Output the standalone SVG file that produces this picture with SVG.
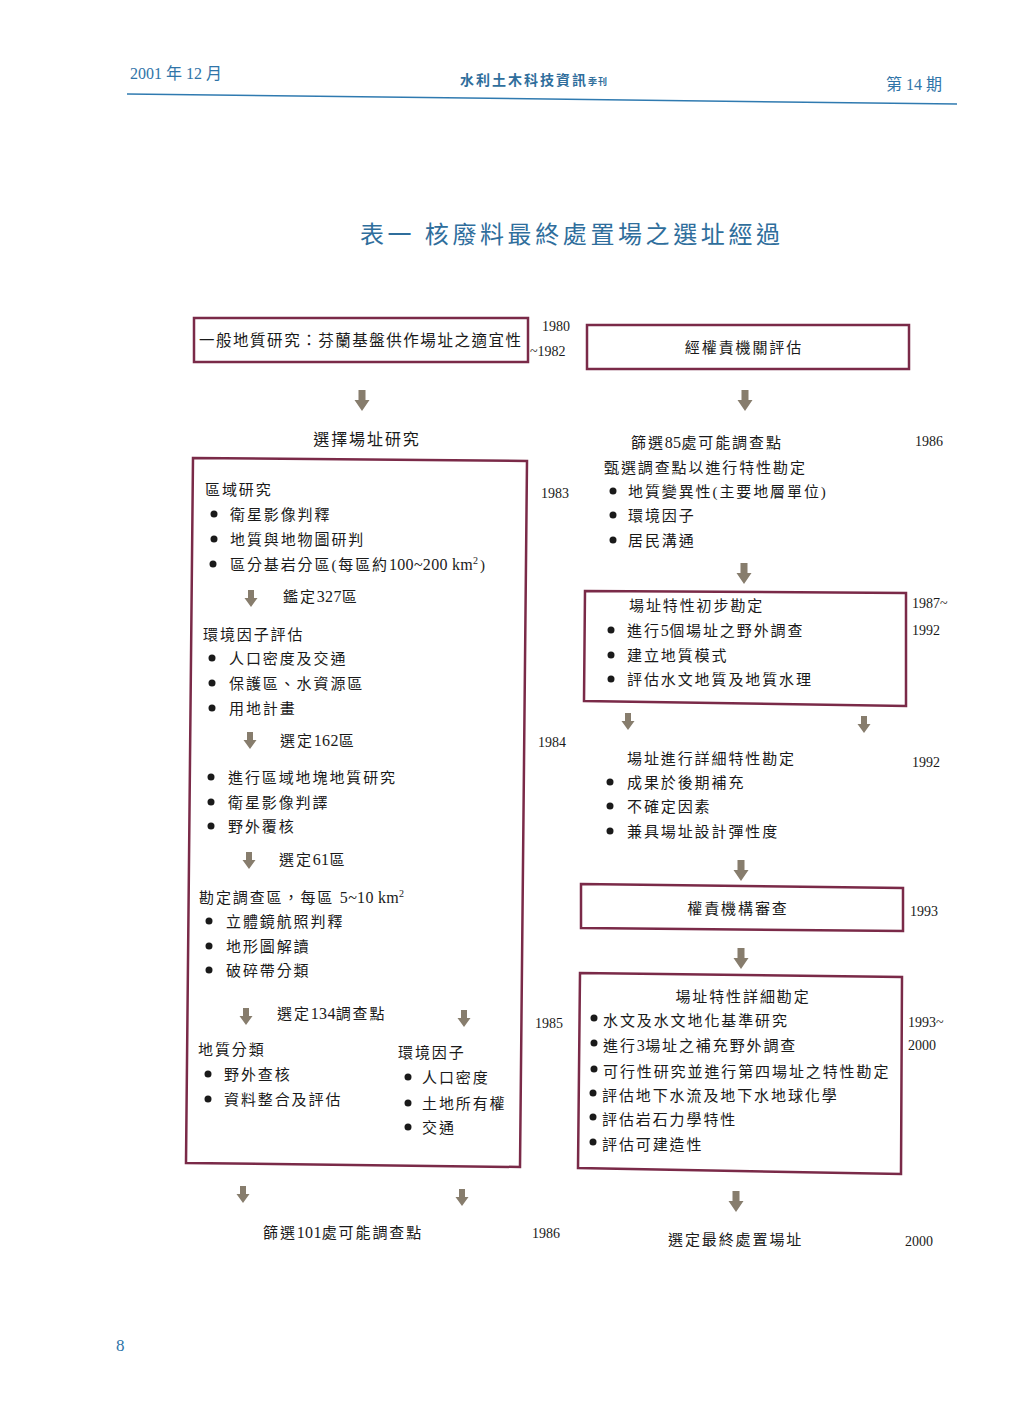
<svg xmlns="http://www.w3.org/2000/svg" width="1024" height="1427" viewBox="0 0 1024 1427">
<defs>
<style>
text{font-family:"Liberation Serif","Noto Sans CJK TC",serif;fill:#1a1a1a}
.t{font-size:15px;letter-spacing:1.9px}
.n{letter-spacing:0.3px;font-size:16px}
.y{font-size:14px;font-family:"Liberation Serif",serif}
.hd{fill:#2f74a8;font-size:16px}
.ttl{fill:#2f6e9c;font-size:24px;letter-spacing:3.6px}
.box{fill:none;stroke:#7a2a48;stroke-width:2.5}
.arr{fill:#877d6d}
.b{fill:#1a1a1a}
</style>
<path id="A" d="M-3.5,0 H3.5 V10 H7.5 L0,21 L-7.5,10 H-3.5 Z"/>
<path id="a" d="M-3,0 H3 V8 H6.5 L0,17 L-6.5,8 H-3 Z"/>
</defs>
<rect width="1024" height="1427" fill="#ffffff"/>

<g id="header">
<text class="hd" x="130" y="79">2001 年 12 月</text>
<text x="460" y="85" style="fill:#2f6e9c;font-size:14px;font-weight:bold;letter-spacing:2px">水利土木科技資訊<tspan style="font-size:9px;letter-spacing:1px">季刊</tspan></text>
<text class="hd" x="886" y="90">第 14 期</text>
<path d="M127,94 L957,104" stroke="#2f7ab0" stroke-width="1.5" fill="none"/>
<text class="hd" x="116" y="1351" style="font-size:17px">8</text>
</g>

<g id="title">
<text class="ttl" x="360" y="243">表一  核廢料最終處置場之選址經過</text>
</g>

<g id="n1">
<rect class="box" x="194" y="318" width="334" height="44"/>
<text x="199" y="346" style="font-size:15.5px" textLength="322">一般地質研究：芬蘭基盤供作場址之適宜性</text>
<text class="y" x="542" y="331">1980</text>
<text class="y" x="530" y="356">~1982</text>
</g>

<g id="n2">
<rect class="box" x="587" y="325" width="322" height="44"/>
<text class="t" x="744" y="353" text-anchor="middle">經權責機關評估</text>
</g>

<g id="n3">
<text class="t" x="367" y="445" text-anchor="middle" style="font-size:16px">選擇場址研究</text>
</g>

<g id="n4">
<polygon class="box" points="193,458 527,461 520,1167 186,1163"/>
<text class="t" x="205" y="495">區域研究</text>
<text class="y" x="541" y="498">1983</text>
<circle class="b" cx="214" cy="514" r="3.5"/>
<text class="t" x="230" y="520">衛星影像判釋</text>
<circle class="b" cx="214" cy="539" r="3.5"/>
<text class="t" x="230" y="545">地質與地物圖研判</text>
<circle class="b" cx="213" cy="564" r="3.5"/>
<text class="t" x="230" y="570">區分基岩分區(每區約<tspan class="n">100~200 km</tspan><tspan dy="-6" style="font-size:10px">2</tspan><tspan dy="6">)</tspan></text>
<text class="t" x="283" y="602">鑑定<tspan class="n">327</tspan>區</text>
<text class="t" x="203" y="640">環境因子評估</text>
<circle class="b" cx="212" cy="658" r="3.5"/>
<text class="t" x="229" y="664">人口密度及交通</text>
<circle class="b" cx="212" cy="683" r="3.5"/>
<text class="t" x="229" y="689">保護區、水資源區</text>
<circle class="b" cx="212" cy="708" r="3.5"/>
<text class="t" x="229" y="714">用地計畫</text>
<text class="t" x="280" y="746">選定<tspan class="n">162</tspan>區</text>
<text class="y" x="538" y="747">1984</text>
<circle class="b" cx="211" cy="777" r="3.5"/>
<text class="t" x="228" y="783">進行區域地塊地質研究</text>
<circle class="b" cx="211" cy="802" r="3.5"/>
<text class="t" x="228" y="808">衛星影像判譯</text>
<circle class="b" cx="211" cy="826" r="3.5"/>
<text class="t" x="228" y="832">野外覆核</text>
<text class="t" x="279" y="865">選定<tspan class="n">61</tspan>區</text>
<text class="t" x="199" y="903">勘定調查區，每區 <tspan class="n">5~10 km</tspan><tspan dy="-6" style="font-size:10px">2</tspan></text>
<circle class="b" cx="209" cy="921" r="3.5"/>
<text class="t" x="226" y="927">立體鏡航照判釋</text>
<circle class="b" cx="209" cy="946" r="3.5"/>
<text class="t" x="226" y="952">地形圖解讀</text>
<circle class="b" cx="209" cy="970" r="3.5"/>
<text class="t" x="226" y="976">破碎帶分類</text>
<text class="t" x="277" y="1019">選定<tspan class="n">134</tspan>調查點</text>
<text class="y" x="535" y="1028">1985</text>
<text class="t" x="198" y="1055">地質分類</text>
<circle class="b" cx="208" cy="1074" r="3.5"/>
<text class="t" x="224" y="1080">野外查核</text>
<circle class="b" cx="208" cy="1099" r="3.5"/>
<text class="t" x="224" y="1105">資料整合及評估</text>
<text class="t" x="398" y="1058">環境因子</text>
<circle class="b" cx="408" cy="1077" r="3.5"/>
<text class="t" x="422" y="1083">人口密度</text>
<circle class="b" cx="408" cy="1103" r="3.5"/>
<text class="t" x="422" y="1109">土地所有權</text>
<circle class="b" cx="408" cy="1127" r="3.5"/>
<text class="t" x="422" y="1133">交通</text>
</g>

<g id="n5">
<text class="t" x="263" y="1238">篩選<tspan class="n">101</tspan>處可能調查點</text>
<text class="y" x="532" y="1238">1986</text>
</g>

<g id="n6">
<text class="t" x="631" y="448">篩選<tspan class="n">85</tspan>處可能調查點</text>
<text class="y" x="915" y="446">1986</text>
<text class="t" x="604" y="473">甄選調查點以進行特性勘定</text>
<circle class="b" cx="613" cy="491" r="3.5"/>
<text class="t" x="628" y="497">地質變異性(主要地層單位)</text>
<circle class="b" cx="613" cy="515" r="3.5"/>
<text class="t" x="628" y="521">環境因子</text>
<circle class="b" cx="613" cy="540" r="3.5"/>
<text class="t" x="628" y="546">居民溝通</text>
</g>

<g id="n7">
<polygon class="box" points="585,591 906,593 906,706 584,701"/>
<text class="t" x="629" y="611">場址特性初步勘定</text>
<text class="y" x="912" y="608">1987~</text>
<text class="y" x="912" y="635">1992</text>
<circle class="b" cx="611" cy="630" r="3.5"/>
<text class="t" x="627" y="636">進行<tspan class="n">5</tspan>個場址之野外調查</text>
<circle class="b" cx="611" cy="655" r="3.5"/>
<text class="t" x="627" y="661">建立地質模式</text>
<circle class="b" cx="611" cy="679" r="3.5"/>
<text class="t" x="627" y="685">評估水文地質及地質水理</text>
</g>

<g id="n8">
<text class="t" x="627" y="764">場址進行詳細特性勘定</text>
<text class="y" x="912" y="767">1992</text>
<circle class="b" cx="610" cy="782" r="3.5"/>
<text class="t" x="627" y="788">成果於後期補充</text>
<circle class="b" cx="610" cy="806" r="3.5"/>
<text class="t" x="627" y="812">不確定因素</text>
<circle class="b" cx="610" cy="831" r="3.5"/>
<text class="t" x="627" y="837">兼具場址設計彈性度</text>
</g>

<g id="n9">
<polygon class="box" points="581,884 903,888 903,931 581,928"/>
<text class="t" x="738" y="914" text-anchor="middle">權責機構審查</text>
<text class="y" x="910" y="916">1993</text>
</g>

<g id="n10">
<polygon class="box" points="580,973 902,977 901,1174 578,1168"/>
<text class="t" x="743" y="1002" text-anchor="middle">場址特性詳細勘定</text>
<text class="y" x="908" y="1027">1993~</text>
<text class="y" x="908" y="1050">2000</text>
<circle class="b" cx="594" cy="1018" r="3.5"/>
<text class="t" x="603" y="1026">水文及水文地化基準研究</text>
<circle class="b" cx="594" cy="1043" r="3.5"/>
<text class="t" x="603" y="1051">進行<tspan class="n">3</tspan>場址之補充野外調查</text>
<circle class="b" cx="594" cy="1069" r="3.5"/>
<text class="t" x="603" y="1077">可行性研究並進行第四場址之特性勘定</text>
<circle class="b" cx="593" cy="1093" r="3.5"/>
<text class="t" x="602" y="1101">評估地下水流及地下水地球化學</text>
<circle class="b" cx="593" cy="1117" r="3.5"/>
<text class="t" x="602" y="1125">評估岩石力學特性</text>
<circle class="b" cx="593" cy="1142" r="3.5"/>
<text class="t" x="602" y="1150">評估可建造性</text>
</g>

<g id="n11">
<text class="t" x="668" y="1245">選定最終處置場址</text>
<text class="y" x="905" y="1246">2000</text>
</g>

<g id="connectors" class="arr">
<use href="#A" x="362" y="390"/>
<use href="#A" x="745" y="390"/>
<use href="#a" x="251" y="590"/>
<use href="#a" x="250" y="732"/>
<use href="#a" x="249" y="852"/>
<use href="#a" x="246" y="1008"/>
<use href="#a" x="464" y="1010"/>
<use href="#a" x="243" y="1186"/>
<use href="#a" x="462" y="1189"/>
<use href="#A" x="744" y="563"/>
<use href="#a" x="628" y="713"/>
<use href="#a" x="864" y="716"/>
<use href="#A" x="741" y="860"/>
<use href="#A" x="741" y="948"/>
<use href="#A" x="736" y="1191"/>
</g>
</svg>
